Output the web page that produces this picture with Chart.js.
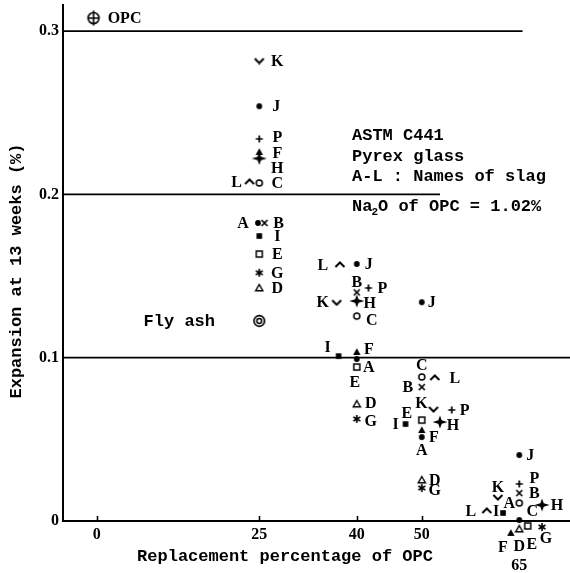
<!DOCTYPE html>
<html><head><meta charset="utf-8">
<script src="https://cdn.jsdelivr.net/npm/chart.js@4/dist/chart.umd.min.js"></script>
<style>html,body{margin:0;padding:0;background:#fff;}canvas{display:block;}</style>
</head><body>
<canvas id="c" width="570" height="573"></canvas>
<script>
// ---------- DATA ----------
const xTickValues = [0, 25, 40, 50, 65];
const xTickLabels = ['0', '25', '40', '50', '65'];
const yTickValues = [0, 0.1, 0.2, 0.3];
const yTickLabels = ['0', '0.1', '0.2', '0.3'];

const xTitle = 'Replacement percentage of OPC';
const yTitle = 'Expansion at 13 weeks (%)';
const noteLines = ['ASTM C441', 'Pyrex glass', 'A-L : Names of slag'];
const noteNa2O = ['Na', '2', 'O of OPC = 1.02%'];

const slagNames = ['A', 'B', 'C', 'D', 'E', 'F', 'G', 'H', 'I', 'J', 'K', 'L', 'P'];
const slagA = [[24.8, 0.1825], [40, 0.0992], [50, 0.0514], [65, 0.0006]];
const slagB = [[25.8, 0.1825], [40, 0.140], [50, 0.082], [65, 0.0171]];
const slagC = [[25, 0.207], [40, 0.1255], [50, 0.0882], [65, 0.011]];
const slagD = [[25, 0.1427], [40, 0.0716], [50, 0.0251], [65, -0.0049]];
const slagE = [[25, 0.1635], [40, 0.0943], [50, 0.0618], [66.3, -0.003]];
const slagF = [[25, 0.226], [40, 0.1035], [50, 0.0557], [63.7, -0.0073]];
const slagG = [[25, 0.152], [40, 0.0625], [50, 0.0202], [68.5, -0.0037]];
const slagH = [[25, 0.222], [40, 0.1347], [52.8, 0.0606], [68.5, 0.0098]];
const slagI = [[25, 0.1745], [37.2, 0.101], [47.5, 0.0594], [62.5, 0.0049]];
const slagJ = [[25, 0.254], [40, 0.1574], [50, 0.134], [65, 0.0404]];
const slagK = [[25, 0.282], [36.9, 0.134], [51.8, 0.0686], [61.7, 0.0147]];
const slagL = [[23.5, 0.2076], [37.4, 0.1568], [52, 0.0876], [60, 0.0061]];
const slagP = [[25, 0.234], [41.8, 0.1427], [54.6, 0.068], [65, 0.0227]];

const opcName = 'OPC';
const opcPoint = [[-0.5, 0.308]];
const flyAshName = 'Fly ash';
const flyAshPoint = [[25, 0.1225]];

const refLine03 = [[-5.2, 0.3], [65.5, 0.3]];
const refLine02 = [[-5.2, 0.2], [52.8, 0.2]];
const refLine01 = [[-5.2, 0.1], [72.8, 0.1]];

// ---------- STYLE ----------
const slagData = {A: slagA, B: slagB, C: slagC, D: slagD, E: slagE, F: slagF, G: slagG,
  H: slagH, I: slagI, J: slagJ, K: slagK, L: slagL, P: slagP};
const markerOf = {A: 'dot', B: 'xmark', C: 'ring', D: 'triOpen', E: 'sqOpen', F: 'triFill',
  G: 'ast', H: 'star4', I: 'sqFill', J: 'dot', K: 'vDown', L: 'vUp', P: 'plus'};
const labelOffsets = {
  A: [[-15, 0], [12, 8], [0, 13], [-10, -17]],
  B: [[14, 0], [0, -11], [-14, 0], [15, 0]],
  C: [[18, 0], [15, 4], [0, -12], [13, 8]],
  D: [[18, 0], [14, -1], [13, 0], [0, 17]],
  E: [[18, 0], [-2, 15], [-15, -7], [4, 18]],
  F: [[18, 1], [12, -3], [12, 7], [-8, 14]],
  G: [[18, 0], [14, 2], [13, 2], [4, 11]],
  H: [[18, 9], [13, 2], [13, 3], [15, 0]],
  I: [[18, 0], [-11, -9], [-10, 0], [-7, -2]],
  J: [[17, 0], [12, 0], [10, 0], [11, 0]],
  K: [[18, 0], [-14, 0], [-12, -6], [0, -10]],
  L: [[-13, 0], [-17, 0], [20, 0], [-16, 0]],
  P: [[18, -2], [14, 0], [13, 0], [15, -6]]
};
const serifFont = 'bold 16px "Liberation Serif"';
const monoFont = 'bold 17px "Liberation Mono"';

function icon(w, h, fn) {
  const c = document.createElement('canvas');
  c.width = w; c.height = h;
  const g = c.getContext('2d');
  g.fillStyle = '#000'; g.strokeStyle = '#000';
  fn(g, w / 2, h / 2);
  return c;
}
const icons = {
  dot: icon(8, 8, (g, x, y) => { g.beginPath(); g.arc(x, y, 2.9, 0, 2 * Math.PI); g.fill(); }),
  ring: icon(10, 10, (g, x, y) => { g.lineWidth = 1.5; g.beginPath(); g.arc(x, y, 3, 0, 2 * Math.PI); g.stroke(); }),
  triOpen: icon(10, 10, (g, x, y) => { g.lineWidth = 1.4; g.beginPath(); g.moveTo(x, y - 3.5); g.lineTo(x + 3.6, y + 2.8); g.lineTo(x - 3.6, y + 2.8); g.closePath(); g.stroke(); }),
  triFill: icon(10, 10, (g, x, y) => { g.beginPath(); g.moveTo(x, y - 3.7); g.lineTo(x + 3.7, y + 2.9); g.lineTo(x - 3.7, y + 2.9); g.closePath(); g.fill(); }),
  sqOpen: icon(10, 10, (g, x, y) => { g.lineWidth = 1.5; g.strokeRect(x - 3, y - 3, 6, 6); }),
  sqFill: icon(8, 8, (g, x, y) => { g.fillRect(x - 2.8, y - 2.8, 5.6, 5.6); }),
  xmark: icon(10, 10, (g, x, y) => { g.lineWidth = 1.7; g.beginPath(); g.moveTo(x - 3, y - 3); g.lineTo(x + 3, y + 3); g.moveTo(x + 3, y - 3); g.lineTo(x - 3, y + 3); g.stroke(); }),
  plus: icon(10, 10, (g, x, y) => { g.lineWidth = 1.7; g.beginPath(); g.moveTo(x - 3.5, y); g.lineTo(x + 3.5, y); g.moveTo(x, y - 3.5); g.lineTo(x, y + 3.5); g.stroke(); }),
  ast: icon(10, 10, (g, x, y) => { g.lineWidth = 1.6; g.beginPath();
    [90, 30, 150].forEach(a => { const r = a * Math.PI / 180, dx = 4 * Math.cos(r), dy = 4 * Math.sin(r); g.moveTo(x - dx, y - dy); g.lineTo(x + dx, y + dy); }); g.stroke(); }),
  star4: icon(16, 14, (g, x, y) => { g.beginPath(); g.moveTo(x, y - 6.5); g.lineTo(x + 1.7, y - 1.7); g.lineTo(x + 7.5, y); g.lineTo(x + 1.7, y + 1.7); g.lineTo(x, y + 6.5); g.lineTo(x - 1.7, y + 1.7); g.lineTo(x - 7.5, y); g.lineTo(x - 1.7, y - 1.7); g.closePath(); g.fill(); }),
  vDown: icon(12, 8, (g, x, y) => { g.lineWidth = 2; g.beginPath(); g.moveTo(x - 4.5, y - 2); g.lineTo(x, y + 2.5); g.lineTo(x + 4.5, y - 2); g.stroke(); }),
  vUp: icon(12, 8, (g, x, y) => { g.lineWidth = 2; g.beginPath(); g.moveTo(x - 4.5, y + 2); g.lineTo(x, y - 2.5); g.lineTo(x + 4.5, y + 2); g.stroke(); }),
  flyash: icon(14, 14, (g, x, y) => { g.lineWidth = 1.7; g.beginPath(); g.arc(x, y, 5.3, 0, 2 * Math.PI); g.stroke(); g.lineWidth = 1.5; g.beginPath(); g.arc(x, y, 2.4, 0, 2 * Math.PI); g.stroke(); }),
  opc: icon(16, 16, (g, x, y) => { g.lineWidth = 1.6; g.beginPath(); g.arc(x, y, 5.5, 0, 2 * Math.PI); g.stroke(); g.beginPath(); g.moveTo(x, y - 7.5); g.lineTo(x, y + 7.5); g.moveTo(x - 5.5, y); g.lineTo(x + 5.5, y); g.stroke(); })
};

const toXY = arr => arr.map(([x, y]) => ({x, y}));
function pointSet(name, pts, marker, offsets, font) {
  return {
    type: 'scatter', label: name, data: toXY(pts),
    pointStyle: icons[marker], pointRadius: 25, pointBorderWidth: 0, pointHoverRadius: 25,
    showLine: false, clip: false,
    labelText: name, labelOffsets: offsets, labelFont: font
  };
}
function lineSet(pts) {
  return {type: 'line', data: toXY(pts), borderColor: '#000', borderWidth: 1.8,
    pointRadius: 0, showLine: true, fill: false, clip: false, tension: 0};
}

const datasets = [lineSet(refLine03), lineSet(refLine02), lineSet(refLine01)];
slagNames.forEach(n => datasets.push(pointSet(n, slagData[n], markerOf[n], labelOffsets[n], serifFont)));
datasets.push(pointSet(opcName, opcPoint, 'opc', [[31, 0]], serifFont));
datasets.push(pointSet(flyAshName, flyAshPoint, 'flyash', [[-80, 0]], monoFont));

const loweredTick = 65;

const pointLabelPlugin = {
  id: 'pointLabels',
  afterDatasetsDraw(chart) {
    const ctx = chart.ctx;
    chart.data.datasets.forEach((ds, di) => {
      if (!ds.labelText) return;
      const meta = chart.getDatasetMeta(di);
      meta.data.forEach((el, i) => {
        const off = (ds.labelOffsets && ds.labelOffsets[i]) || [14, 0];
        ctx.save();
        ctx.font = ds.labelFont;
        ctx.fillStyle = '#000';
        ctx.textAlign = 'center';
        ctx.textBaseline = 'middle';
        ctx.fillText(ds.labelText, el.x + off[0], el.y + off[1] + 1);
        ctx.restore();
      });
    });
  }
};

const decorPlugin = {
  id: 'decor',
  beforeDraw(chart) {
    const ctx = chart.ctx;
    ctx.save(); ctx.fillStyle = '#fff'; ctx.fillRect(0, 0, chart.width, chart.height); ctx.restore();
  },
  afterDraw(chart) {
    const ctx = chart.ctx;
    const xs = chart.scales.x, a = chart.chartArea;
    ctx.save();
    ctx.strokeStyle = '#000'; ctx.lineWidth = 1.6;
    xTickValues.filter(v => v !== loweredTick).forEach(v => {
      const px = Math.round(xs.getPixelForValue(v)) + 0.5;
      ctx.beginPath(); ctx.moveTo(px, a.bottom); ctx.lineTo(px, a.bottom - 5); ctx.stroke();
    });
    ctx.fillStyle = '#000';
    ctx.font = monoFont;
    ctx.textBaseline = 'middle';
    ctx.textAlign = 'center';
    ctx.fillText(xTitle, a.left + 222, a.bottom + 36);
    ctx.save();
    ctx.translate(17, a.top + 266);
    ctx.rotate(-Math.PI / 2);
    ctx.fillText(yTitle, 0, 0);
    ctx.restore();
    ctx.textAlign = 'left';
    const nx = a.left + 289;
    const ny = [a.top + 131, a.top + 152, a.top + 172];
    noteLines.forEach((t, i) => ctx.fillText(t, nx, ny[i]));
    let x = nx; const y = a.top + 202;
    ctx.fillText(noteNa2O[0], x, y); x += ctx.measureText(noteNa2O[0]).width;
    ctx.font = 'bold 11px "Liberation Mono"';
    ctx.fillText(noteNa2O[1], x - 1, y + 5); x += ctx.measureText(noteNa2O[1]).width - 1;
    ctx.font = monoFont;
    ctx.fillText(noteNa2O[2], x, y);
    ctx.restore();
  }
};

new Chart(document.getElementById('c'), {
  type: 'scatter',
  data: {datasets},
  options: {
    responsive: false, animation: false, events: [],
    layout: {autoPadding: false, padding: {top: 5, left: 0, right: 0, bottom: 0}},
    plugins: {legend: {display: false}, tooltip: {enabled: false}},
    scales: {
      x: {
        type: 'linear', min: -5.2, max: 72.8,
        afterBuildTicks: s => { s.ticks = xTickValues.map(v => ({value: v})); },
        afterFit: s => { s.height = 52; s.paddingLeft = 0; s.paddingRight = 0; },
        grid: {display: true, drawOnChartArea: false, drawTicks: false},
        border: {display: true, color: '#000', width: 2},
        ticks: {
          color: '#000', padding: -2, maxRotation: 0, autoSkip: false,
          font: {family: 'Liberation Serif', size: 16, weight: 'bold', lineHeight: '31px'},
          callback: (v, i) => v === loweredTick ? ['', xTickLabels[i]] : xTickLabels[i]
        }
      },
      y: {
        type: 'linear', min: 0, max: 0.316,
        afterBuildTicks: s => { s.ticks = yTickValues.map(v => ({value: v})); },
        afterFit: s => { s.width = 63; s.paddingTop = 0; s.paddingBottom = 0; },
        grid: {display: true, drawOnChartArea: false, drawTicks: false},
        border: {display: true, color: '#000', width: 2},
        ticks: {
          color: '#000', padding: 4,
          font: {family: 'Liberation Serif', size: 16, weight: 'bold'},
          callback: (v, i) => yTickLabels[i]
        }
      }
    }
  },
  plugins: [pointLabelPlugin, decorPlugin]
});
</script>
</body></html>
